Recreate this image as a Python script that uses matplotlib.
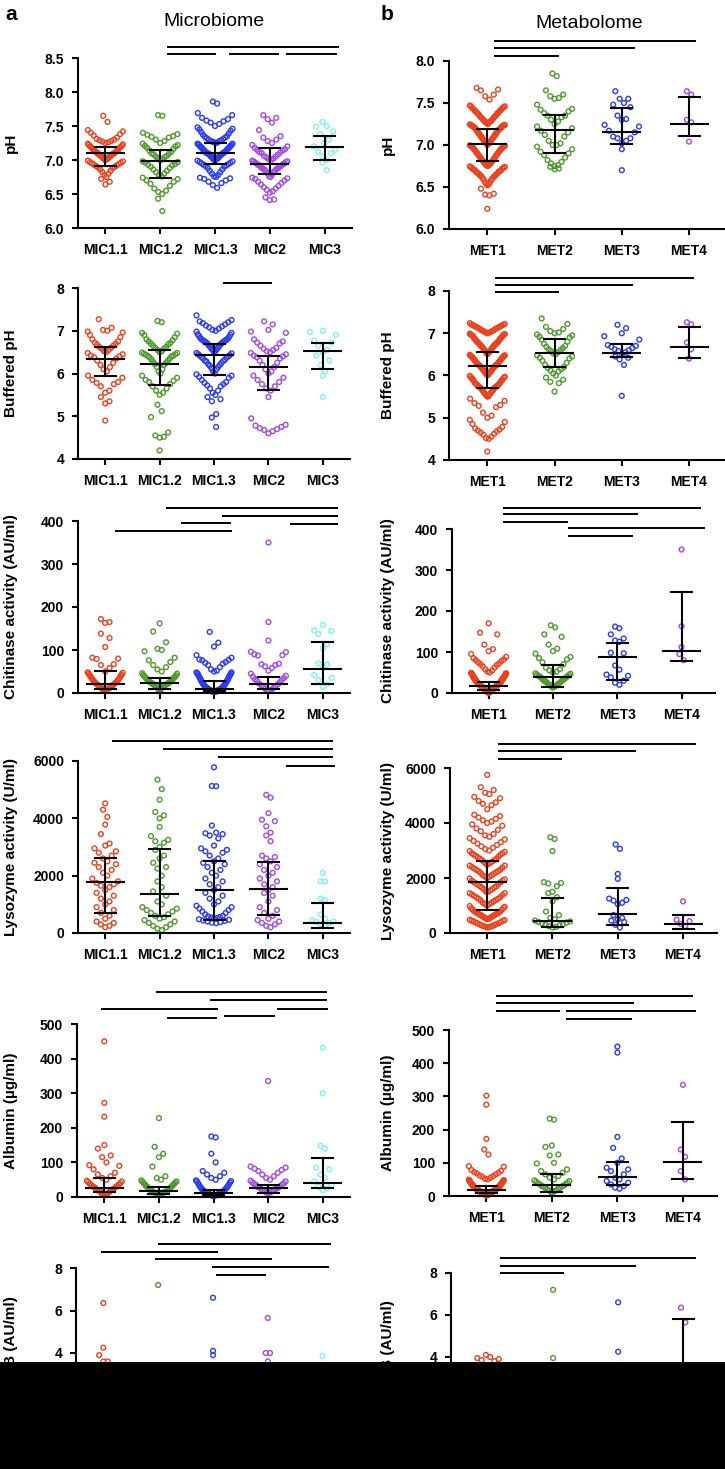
import numpy as np
import matplotlib.pyplot as plt
from matplotlib.patches import Rectangle
from matplotlib.ticker import FormatStrFormatter

plt.rcParams['font.family'] = ['Liberation Sans', 'DejaVu Sans']

W, H = 725, 1469

mic_groups = ['MIC1.1', 'MIC1.2', 'MIC1.3', 'MIC2', 'MIC3']
met_groups = ['MET1', 'MET2', 'MET3', 'MET4']
mic_colors = ['#e8431e', '#4f9a2c', '#2b3cf0', '#a449e6', '#84f0f0']
met_colors = ['#e8431e', '#4f9a2c', '#2b3cf0', '#a449e6']

# ---------------- pH ----------------
ph_mic = [
    [7.65, 7.56, 7.44, 7.42, 7.40, 7.38, 7.36, 7.33, 7.31, 7.30, 7.29, 7.28, 7.27, 7.26, 7.25, 7.24, 7.22, 7.21,
     7.20, 7.19, 7.18, 7.17, 7.16, 7.15, 7.14, 7.13, 7.12, 7.11, 7.10, 7.10, 7.09, 7.08, 7.07, 7.06, 7.05, 7.04,
     7.03, 7.02, 7.01, 7.00, 6.99, 6.97, 6.96, 6.94, 6.92, 6.91, 6.90, 6.88, 6.86, 6.84, 6.82, 6.80, 6.78, 6.75,
     6.72, 6.68, 6.64, 7.23, 7.19, 7.14, 7.11, 7.08, 7.06, 7.03, 7.01, 6.98, 6.95, 6.93, 6.89],
    [7.66, 7.65, 7.40, 7.38, 7.37, 7.35, 7.34, 7.33, 7.30, 7.28, 7.25, 7.24, 7.22, 7.21, 7.20, 7.18, 7.16, 7.14,
     7.12, 7.10, 7.08, 7.06, 7.04, 7.02, 7.00, 6.98, 6.96, 6.94, 6.92, 6.90, 6.88, 6.86, 6.84, 6.82, 6.80, 6.78,
     6.76, 6.74, 6.72, 6.70, 6.68, 6.65, 6.62, 6.58, 6.55, 6.53, 6.50, 6.43, 6.25, 7.09, 7.05, 7.01, 6.97, 6.93],
    [7.86, 7.83, 7.69, 7.66, 7.62, 7.60, 7.58, 7.57, 7.55, 7.53, 7.50, 7.48, 7.46, 7.45, 7.43, 7.41, 7.39, 7.37,
     7.35, 7.33, 7.31, 7.30, 7.29, 7.28, 7.27, 7.26, 7.25, 7.24, 7.23, 7.22, 7.21, 7.20, 7.19, 7.18, 7.17, 7.16,
     7.15, 7.14, 7.13, 7.12, 7.11, 7.11, 7.10, 7.10, 7.09, 7.09, 7.08, 7.07, 7.06, 7.05, 7.04, 7.03, 7.02, 7.01,
     7.00, 6.99, 6.98, 6.97, 6.96, 6.95, 6.94, 6.93, 6.92, 6.91, 6.90, 6.88, 6.86, 6.84, 6.82, 6.80, 6.78, 6.76,
     6.75, 6.74, 6.73, 6.72, 6.70, 6.68, 6.66, 6.63, 6.59,
     7.24, 7.22, 7.20, 7.18, 7.16, 7.14, 7.12, 7.10, 7.08, 7.06, 7.04, 7.02, 7.01, 7.00, 7.34, 7.32, 7.28, 7.26],
    [7.66, 7.62, 7.60, 7.55, 7.44, 7.35, 7.33, 7.30, 7.28, 7.25, 7.22, 7.20, 7.18, 7.16, 7.14, 7.12, 7.10, 7.08,
     7.06, 7.04, 7.02, 7.00, 6.99, 6.98, 6.97, 6.96, 6.95, 6.94, 6.93, 6.92, 6.91, 6.90, 6.89, 6.88, 6.87, 6.86,
     6.85, 6.84, 6.83, 6.82, 6.80, 6.78, 6.76, 6.75, 6.74, 6.73, 6.72, 6.70, 6.68, 6.66, 6.64, 6.62, 6.60, 6.58,
     6.56, 6.54, 6.52, 6.45, 6.42, 6.41, 7.15, 7.11, 7.05, 7.01, 6.98, 6.95, 6.92, 6.88],
    [7.56, 7.50, 7.49, 7.42, 7.38, 7.30, 7.25, 7.20, 7.15, 7.12, 7.10, 7.05, 7.00, 6.96, 6.85],
]
ph_mic_med = [7.10, 6.98, 7.10, 6.94, 7.19]
ph_mic_lo = [6.91, 6.74, 6.94, 6.79, 7.00]
ph_mic_hi = [7.19, 7.14, 7.25, 7.17, 7.35]

ph_met = [
    [7.68, 7.66, 7.65, 7.60, 7.58, 7.54,
     7.47, 7.46, 7.45, 7.44, 7.43, 7.42, 7.41, 7.40, 7.39, 7.38, 7.37, 7.36, 7.35, 7.34, 7.33, 7.32, 7.31, 7.30,
     7.29, 7.28, 7.27, 7.26, 7.25,
     7.24, 7.24, 7.23, 7.23, 7.22, 7.22, 7.21, 7.20, 7.20, 7.19, 7.18, 7.17, 7.16, 7.15, 7.14, 7.13, 7.12, 7.11,
     7.10, 7.09, 7.08, 7.07, 7.06, 7.05, 7.04, 7.03, 7.02, 7.01, 7.00,
     6.99, 6.99, 6.98, 6.97, 6.96, 6.95, 6.94, 6.93, 6.92, 6.91, 6.90, 6.89, 6.88, 6.87, 6.86, 6.85, 6.84, 6.83,
     6.82, 6.81, 6.80, 6.79, 6.78, 6.77, 6.76, 6.75,
     6.74, 6.73, 6.72, 6.71, 6.70, 6.69, 6.68, 6.67, 6.66, 6.65, 6.64, 6.63, 6.62, 6.61, 6.60, 6.58, 6.56, 6.54,
     6.52, 6.48, 6.42, 6.41, 6.40, 6.24,
     7.46, 7.44, 7.41, 7.38, 7.33, 7.29, 7.27, 7.245, 7.235, 7.225, 7.215, 7.19, 7.17, 7.14, 7.11, 7.08, 7.05,
     7.03, 7.02, 6.995, 6.985, 6.975, 6.96, 6.94, 6.91, 6.88, 6.84, 6.81, 6.78, 6.765, 6.755, 6.745, 6.735,
     6.72, 6.70, 6.68, 6.66, 6.63, 6.59, 6.55, 6.53],
    [7.85, 7.82, 7.65, 7.60, 7.58, 7.56, 7.55, 7.48, 7.43, 7.42, 7.40, 7.38, 7.35, 7.35, 7.33, 7.30, 7.28, 7.25,
     7.22, 7.20, 7.17, 7.15, 7.12, 7.10, 7.05, 7.02, 7.00, 7.00, 6.98, 6.95, 6.92, 6.90, 6.88, 6.85, 6.82, 6.80,
     6.78, 6.76, 6.75, 6.74, 6.72, 6.71],
    [7.64, 7.55, 7.55, 7.50, 7.48, 7.45, 7.35, 7.31, 7.30, 7.24, 7.22, 7.17, 7.15, 7.10, 7.08, 7.08, 7.05, 7.02,
     6.95, 6.70],
    [7.64, 7.60, 7.30, 7.27, 7.04],
]
ph_met_med = [7.01, 7.18, 7.15, 7.25]
ph_met_lo = [6.81, 6.91, 7.01, 7.11]
ph_met_hi = [7.19, 7.36, 7.44, 7.57]

# ---------------- Buffered pH ----------------
buf_mic = [
    [7.27, 7.07, 7.02, 7.00, 6.98, 6.96, 6.90, 6.85, 6.80, 6.75, 6.72, 6.70, 6.68, 6.65, 6.62, 6.60, 6.58, 6.55,
     6.52, 6.50, 6.48, 6.45, 6.42, 6.40, 6.38, 6.35, 6.30, 6.25, 6.20, 6.15, 6.10, 6.05, 5.95, 5.90, 5.85, 5.80,
     5.78, 5.75, 5.70, 5.60, 5.55, 5.45, 5.35, 5.30, 4.90],
    [7.23, 7.20, 6.95, 6.93, 6.90, 6.85, 6.80, 6.78, 6.75, 6.72, 6.70, 6.68, 6.65, 6.62, 6.60, 6.58, 6.55, 6.52,
     6.50, 6.48, 6.45, 6.42, 6.40, 6.35, 6.30, 6.25, 6.20, 6.15, 6.10, 6.05, 6.00, 5.95, 5.90, 5.85, 5.83, 5.80,
     5.75, 5.70, 5.65, 5.60, 5.55, 5.50, 5.27, 5.12, 4.98, 4.62, 4.55, 4.52, 4.50, 4.20,
     6.49, 6.46, 6.44, 6.41, 6.38, 6.33, 6.27, 6.22],
    [7.36, 7.25, 7.22, 7.20, 7.18, 7.15, 7.12, 7.10, 7.08, 7.05, 7.02, 7.00, 6.98, 6.95, 6.92, 6.90, 6.88, 6.85,
     6.82, 6.80, 6.78, 6.77, 6.76, 6.75, 6.74, 6.72, 6.70, 6.68, 6.65, 6.62, 6.60, 6.58, 6.55, 6.52, 6.50, 6.48,
     6.45, 6.42, 6.40, 6.38, 6.35, 6.32, 6.30, 6.28, 6.25, 6.22, 6.20, 6.18, 6.15, 6.12, 6.10, 6.05, 6.00, 5.98,
     5.95, 5.92, 5.90, 5.85, 5.80, 5.78, 5.75, 5.72, 5.70, 5.65, 5.60, 5.55, 5.50, 5.45, 5.40, 5.35, 5.05, 4.97,
     4.75, 6.83, 6.79, 6.73, 6.69, 6.63, 6.56, 6.47, 6.43, 6.37, 6.29],
    [7.22, 7.15, 7.02, 6.98, 6.95, 6.80, 6.75, 6.72, 6.70, 6.65, 6.60, 6.58, 6.55, 6.52, 6.50, 6.48, 6.45, 6.42,
     6.40, 6.38, 6.35, 6.30, 6.25, 6.20, 6.15, 6.10, 6.05, 6.00, 5.95, 5.90, 5.85, 5.80, 5.75, 5.70, 5.65, 5.60,
     5.45, 4.95, 4.80, 4.78, 4.75, 4.72, 4.70, 4.68, 4.65, 4.60],
    [7.00, 6.97, 6.90, 6.77, 6.72, 6.65, 6.55, 6.50, 6.42, 6.30, 6.20, 6.05, 5.95, 5.45],
]
buf_mic_med = [6.34, 6.22, 6.43, 6.15, 6.52]
buf_mic_lo = [5.94, 5.73, 5.96, 5.61, 6.11]
buf_mic_hi = [6.62, 6.55, 6.69, 6.41, 6.71]

buf_met = [
    [7.24, 7.22, 7.20, 7.18, 7.16, 7.15, 7.13, 7.12, 7.10, 7.08, 7.06, 7.05, 7.03, 7.02, 7.01, 7.00,
     6.98, 6.97, 6.96, 6.95, 6.94, 6.92, 6.90, 6.88, 6.86, 6.84, 6.82, 6.80, 6.78, 6.77, 6.76, 6.75, 6.74, 6.73,
     6.72, 6.70, 6.68, 6.66, 6.64, 6.62, 6.60, 6.58, 6.56, 6.54, 6.52, 6.51,
     6.49, 6.48, 6.46, 6.45, 6.44, 6.42, 6.40, 6.38, 6.36, 6.35, 6.34, 6.32, 6.30, 6.28, 6.26, 6.25, 6.24, 6.23,
     6.22, 6.21, 6.20, 6.18, 6.16, 6.14, 6.12, 6.10, 6.08, 6.06, 6.04, 6.02, 6.01,
     5.99, 5.97, 5.95, 5.93, 5.90, 5.88, 5.85, 5.82, 5.80, 5.78, 5.76, 5.75, 5.74, 5.73, 5.72, 5.70, 5.68, 5.65,
     5.62, 5.60, 5.58, 5.55, 5.52, 5.50,
     5.45, 5.40, 5.35, 5.30, 5.28, 5.25, 5.12, 5.05, 5.00, 4.95, 4.90, 4.85, 4.78, 4.75, 4.72, 4.70, 4.68, 4.65,
     4.62, 4.60, 4.55, 4.52, 4.50, 4.20,
     7.21, 7.19, 7.17, 7.14, 7.11, 7.07, 7.04, 6.99, 6.97, 6.93, 6.89, 6.85, 6.81, 6.79, 6.71, 6.67, 6.63, 6.59,
     6.55, 6.47, 6.43, 6.39, 6.33, 6.29, 6.27, 6.19, 6.15, 6.11, 6.07, 6.03, 5.96, 5.91, 5.86, 5.81, 5.77, 5.71,
     5.66, 5.61, 5.56, 5.51],
    [7.35, 7.22, 7.15, 7.10, 7.05, 7.02, 7.00, 6.97, 6.95, 6.92, 6.90, 6.85, 6.80, 6.75, 6.70, 6.68, 6.65, 6.62,
     6.60, 6.58, 6.55, 6.52, 6.50, 6.48, 6.45, 6.42, 6.40, 6.35, 6.30, 6.25, 6.20, 6.18, 6.15, 6.12, 6.10, 6.05,
     6.00, 5.95, 5.90, 5.85, 5.82, 5.62],
    [7.20, 7.12, 7.00, 6.93, 6.85, 6.72, 6.70, 6.68, 6.65, 6.62, 6.60, 6.58, 6.55, 6.50, 6.45, 6.42, 6.38, 6.25,
     5.52],
    [7.26, 7.21, 6.78, 6.62, 6.40],
]
buf_met_med = [6.23, 6.53, 6.53, 6.68]
buf_met_lo = [5.70, 6.20, 6.44, 6.41]
buf_met_hi = [6.55, 6.86, 6.75, 7.15]

# ---------------- Chitinase ----------------
chi_mic = [
    [172, 165, 163, 138, 128, 107, 82, 80, 79, 67, 65, 58, 50, 48, 45, 42, 40, 38, 35, 32, 30, 28, 26, 25, 23, 22,
     21, 20, 18, 17, 15, 14, 13, 12, 11, 10, 9, 8, 7, 5, 47, 43, 36, 33, 27, 24, 19, 16, 12, 9, 6],
    [162, 143, 118, 103, 100, 97, 82, 76, 72, 65, 60, 55, 50, 45, 42, 40, 38, 36, 34, 32, 30, 28, 27, 26, 25, 24,
     23, 22, 21, 20, 19, 18, 16, 15, 14, 12, 10, 8, 6, 46, 41, 37, 33, 29, 24, 21, 17, 13, 9],
    [142, 117, 108, 88, 82, 78, 77, 76, 72, 70, 68, 65, 60, 55, 52, 50, 48, 45, 42, 40, 38, 35, 32, 30, 28, 26,
     24, 22, 20, 18, 17, 16, 15, 14, 13, 12, 11, 10, 10, 9, 9, 8, 8, 7, 7, 6, 6, 5, 5, 4, 4, 3, 3, 2,
     48, 46, 44, 41, 37, 33, 29, 25, 21, 19, 14, 11, 6, 4, 3, 2],
    [350, 165, 122, 96, 95, 90, 88, 87, 68, 67, 65, 62, 58, 52, 45, 40, 38, 35, 32, 30, 28, 25, 22, 20, 18, 16,
     14, 12, 10, 8, 6, 4],
    [158, 146, 144, 137, 113, 103, 69, 66, 62, 42, 35, 30, 20, 15],
]
chi_mic_med = [21, 23, 10, 21, 55]
chi_mic_lo = [10, 10, 5, 9, 21]
chi_mic_hi = [51, 35, 27, 37, 119]

chi_met = [
    [170, 147, 143, 118, 107, 102, 95, 88, 85, 82, 80, 78, 75, 72, 70, 68, 65, 62, 58, 55, 52, 50, 48, 46, 45, 44,
     42, 40, 39, 38, 37, 36, 35, 34, 33, 32, 31, 30, 29, 28, 27, 26, 25, 25, 24, 24, 23, 23, 22, 22, 21, 21, 20,
     20, 19, 19, 18, 18, 17, 17, 16, 16, 15, 15, 14, 14, 13, 13, 12, 12, 11, 11, 10, 10, 9, 9, 8, 8, 7, 7, 6, 6,
     5, 5, 4, 4, 3, 3, 2, 2, 1, 1,
     49, 47, 45, 43, 41, 39, 37, 35, 33, 31, 29, 27, 25, 23, 21, 19, 17, 15, 13, 11, 9, 7, 5, 3, 2,
     48, 44, 40, 36, 32, 28, 24, 20, 16, 12, 8, 4, 2, 1],
    [165, 160, 143, 137, 118, 108, 102, 96, 88, 85, 82, 75, 70, 62, 58, 55, 52, 50, 48, 45, 42, 40, 38, 35, 32,
     30, 28, 25, 22, 20, 18, 15, 13, 47, 44, 41, 37, 33, 29, 26, 23, 19, 16],
    [162, 158, 143, 133, 128, 125, 98, 97, 67, 57, 45, 42, 38, 30, 25, 20],
    [350, 163, 112, 95, 80],
]
chi_met_med = [17, 39, 87, 102]
chi_met_lo = [7, 14, 32, 78]
chi_met_hi = [27, 68, 122, 246]

# ---------------- Lysozyme ----------------
lys_mic = [
    [4520, 4300, 4050, 3780, 3450, 3120, 3050, 2950, 2850, 2800, 2700, 2600, 2500, 2450, 2400, 2300, 2200, 2100,
     2000, 1900, 1800, 1750, 1700, 1650, 1600, 1500, 1400, 1300, 1200, 1100, 1000, 900, 800, 700, 600, 500, 400,
     350, 300, 250, 200],
    [5350, 5020, 4650, 4220, 4100, 4000, 3700, 3380, 3250, 3200, 3150, 3000, 2900, 2700, 2600, 2450, 2300, 2250,
     2000, 1800, 1600, 1450, 1300, 1100, 1000, 900, 850, 800, 750, 700, 650, 600, 550, 500, 450, 400, 350, 300,
     250, 200, 150, 100],
    [5780, 5130, 5120, 3750, 3500, 3480, 3450, 3400, 3300, 3050, 2950, 2900, 2850, 2800, 2700, 2600, 2500, 2450,
     2400, 2300, 2200, 2100, 2000, 1900, 1800, 1700, 1600, 1500, 1400, 1300, 1200, 1100, 1000, 950, 900, 850,
     800, 750, 700, 650, 600, 580, 560, 540, 520, 500, 480, 460, 440, 420, 400, 380, 360, 340],
    [4820, 4720, 4180, 3950, 3900, 3720, 3500, 3400, 3200, 2700, 2650, 2600, 2500, 2400, 2300, 2200, 2100, 2000,
     1900, 1800, 1700, 1600, 1500, 1400, 1300, 1100, 900, 800, 700, 600, 500, 450, 400, 350, 300, 250, 200],
    [2100, 1800, 1800, 1200, 1150, 650, 500, 450, 400, 380, 350, 300, 250],
]
lys_mic_med = [1770, 1360, 1500, 1530, 350]
lys_mic_lo = [700, 590, 450, 630, 180]
lys_mic_hi = [2617, 2930, 2520, 2470, 1060]

lys_met = [
    [5750, 5300, 5200, 5100, 5050, 4950, 4900, 4800, 4750, 4700, 4650, 4500, 4300, 4250, 4200, 4150, 4100, 4050,
     4000, 3950, 3900, 3800, 3750, 3700, 3600, 3550, 3500, 3450, 3400, 3350, 3300, 3250, 3200, 3150, 3100, 3050,
     3000, 2950, 2900, 2850, 2800, 2750, 2700, 2650, 2600, 2550, 2500, 2450, 2400, 2350, 2300, 2250, 2200, 2150,
     2100, 2050, 2000, 1950, 1900, 1850, 1800, 1750, 1700, 1650, 1600, 1550, 1500, 1450, 1400, 1350, 1300, 1250,
     1200, 1150, 1100, 1050, 1000, 950, 900, 850, 800, 760, 720, 680, 640, 600, 560, 520, 480, 440, 400, 360,
     320, 280, 240, 200,
     2900, 2700, 2500, 2300, 2100, 1900, 1700, 1500, 1300, 1100, 900, 700, 650, 550, 450, 350, 300, 250,
     2850, 2650, 2450, 2250, 2050, 1850, 1650, 1450, 1250, 1050, 850, 750, 620, 580, 500, 420, 380, 260, 220,
     2980, 2780, 2580, 2380, 2180, 1980, 1780, 1580, 1380, 1180, 980, 780, 700, 660, 540, 470, 330, 230],
    [3480, 3420, 2980, 1850, 1820, 1800, 1700, 1500, 1450, 1300, 1150, 780, 650, 550, 500, 450, 420, 400, 380,
     350, 320, 300, 280, 250, 220, 200],
    [3220, 3060, 2150, 1970, 1250, 1200, 1180, 1100, 1050, 650, 550, 500, 450, 400, 300, 200],
    [1150, 480, 430, 330, 250],
]
lys_met_med = [1860, 440, 690, 330]
lys_met_lo = [840, 220, 290, 150]
lys_met_hi = [2620, 1290, 1640, 650]

# ---------------- Albumin ----------------
alb_mic = [
    [450, 272, 232, 150, 140, 120, 115, 100, 92, 90, 80, 70, 65, 60, 55, 50, 45, 40, 38, 35, 32, 30, 28, 25, 22,
     20, 18, 15, 12, 10, 8, 5, 47, 43, 36, 29, 24, 19, 14, 9],
    [228, 145, 125, 115, 88, 60, 55, 50, 45, 42, 40, 38, 35, 32, 30, 28, 25, 22, 20, 18, 17, 16, 15, 14, 13, 12,
     11, 10, 8, 6, 5, 48, 44, 37, 31, 26, 21, 16, 12, 9],
    [175, 172, 125, 100, 75, 70, 65, 60, 55, 50, 45, 40, 35, 30, 28, 25, 22, 20, 18, 16, 15, 14, 13, 12, 11, 10,
     9, 8, 7, 6, 5, 4, 3, 48, 46, 42, 37, 32, 27, 21, 17, 13, 9, 6, 4, 2],
    [335, 88, 85, 82, 78, 75, 70, 65, 60, 55, 50, 45, 40, 38, 35, 32, 30, 28, 25, 22, 20, 18, 15, 12, 10,
     47, 42, 36, 27, 23, 17, 13],
    [432, 300, 148, 140, 85, 80, 65, 55, 45, 35, 30, 25, 20],
]
alb_mic_med = [25, 17, 12, 25, 40]
alb_mic_lo = [15, 10, 5, 12, 25]
alb_mic_hi = [55, 30, 20, 35, 113]

alb_met = [
    [302, 275, 172, 140, 125, 90, 88, 78, 76, 72, 70, 68, 65, 62, 60, 58, 55, 52, 50, 48, 46, 45, 44, 42, 40, 39,
     38, 37, 36, 35, 34, 33, 32, 31, 30, 29, 28, 27, 26, 25, 25, 24, 24, 23, 23, 22, 22, 21, 21, 20, 20, 19, 19,
     18, 18, 17, 17, 16, 16, 15, 15, 14, 14, 13, 13, 12, 12, 11, 11, 10, 10, 9, 9, 8, 8, 7, 7, 6, 6, 5, 5, 4, 4,
     3, 3, 2, 49, 47, 43, 41, 37, 33, 29, 26, 22, 18, 15, 12, 9, 6, 3, 2, 1],
    [233, 230, 152, 148, 125, 122, 100, 98, 80, 75, 70, 65, 60, 55, 50, 45, 40, 38, 35, 32, 30, 28, 25, 22, 20,
     18, 15, 12, 10, 47, 43, 36, 29, 24, 17],
    [450, 432, 178, 145, 113, 100, 85, 80, 75, 65, 55, 50, 45, 40, 35, 30, 25, 22],
    [335, 140, 118, 75, 50],
]
alb_met_med = [17, 32, 56, 103]
alb_met_lo = [8, 12, 32, 50]
alb_met_hi = [30, 65, 103, 222]

# ---------------- MUC5B ----------------
muc_mic = [
    [6.35, 4.25, 3.90, 3.60, 3.60, 3.0, 2.6, 2.2, 2.0, 1.8, 1.6, 1.4, 1.2, 1.0, 0.9, 0.8, 0.7, 0.6, 0.5, 0.4],
    [7.20, 3.0, 2.5, 2.0, 1.6, 1.3, 1.1, 0.9, 0.8, 0.7, 0.6, 0.5, 0.4],
    [6.60, 4.10, 3.90, 3.0, 2.5, 2.0, 1.6, 1.3, 1.1, 0.9, 0.8, 0.7, 0.6, 0.5, 0.4, 0.3],
    [5.65, 4.00, 4.00, 3.60, 3.0, 2.5, 2.0, 1.5, 1.2, 1.0, 0.8, 0.6, 0.5],
    [3.85, 2.8, 2.2, 1.6, 1.2, 0.9],
]
muc_mic_med = [1.2, 0.9, 0.8, 1.0, 1.5]
muc_mic_lo = [0.6, 0.5, 0.4, 0.5, 0.8]
muc_mic_hi = [2.5, 2.0, 1.8, 2.2, 2.8]

muc_met = [
    [4.10, 4.00, 3.95, 3.90, 3.85, 3.80, 3.5, 3.2, 3.0, 2.8, 2.5, 2.2, 2.0, 1.8, 1.5, 1.2, 1.0, 0.8, 0.5],
    [7.20, 3.95, 3.0, 2.5, 2.0, 1.5, 1.2, 1.0, 0.8],
    [6.60, 4.25, 3.0, 2.2, 1.6, 1.2, 0.9],
    [6.35, 5.65, 2.5, 1.5, 1.0],
]
muc_met_med = [1.0, 1.2, 1.6, 2.5]
muc_met_lo = [0.5, 0.6, 0.8, 1.2]
muc_met_hi = [2.2, 2.5, 3.0, 5.8]

# comparison bars: (from, to, level) in category / data units
bars_ph_mic = [(1.12, 4.26, 8.66), (1.12, 2.02, 8.56), (2.26, 3.16, 8.56), (3.30, 4.22, 8.56)]
bars_buf_mic = [(2.17, 3.06, 8.12)]
bars_chi_mic = [(1.12, 4.28, 430), (2.15, 4.28, 412), (1.39, 2.31, 395), (3.39, 4.28, 393), (0.18, 2.33, 377)]
bars_lys_mic = [(0.13, 4.18, 6700), (1.06, 4.18, 6420), (2.07, 4.18, 6140), (3.32, 4.22, 5825)]
bars_alb_mic = [(0.94, 4.07, 592), (1.94, 4.07, 569), (-0.06, 2.09, 543), (3.17, 4.09, 543),
                (2.20, 3.12, 523), (1.14, 2.07, 517)]
bars_muc_mic = [(0.99, 4.15, 9.13), (-0.04, 2.09, 8.75), (0.95, 3.08, 8.42), (1.98, 4.11, 8.05),
                (2.06, 2.97, 7.67)]
bars_ph_met = [(0.10, 3.10, 8.24), (0.10, 2.19, 8.15), (0.10, 1.06, 8.06)]
bars_buf_met = [(0.12, 3.07, 8.31), (0.12, 2.17, 8.14), (0.12, 1.06, 7.98)]
bars_chi_met = [(0.23, 3.31, 451), (0.23, 2.33, 437), (0.23, 1.23, 417), (1.24, 3.37, 402), (1.24, 2.24, 383)]
bars_lys_met = [(0.17, 3.20, 6873), (0.17, 2.28, 6618), (0.17, 1.15, 6327)]
bars_alb_met = [(0.14, 3.15, 602), (0.14, 2.25, 581), (0.14, 1.12, 557), (1.21, 3.20, 557), (1.21, 2.22, 533)]
bars_muc_met = [(0.18, 3.20, 8.71), (0.18, 2.28, 8.33), (0.18, 1.16, 8.0)]


def swarm_x(vals, center, bin_h, step, half):
    # prism-like column scatter: bin by value, lowest in the middle, fan outwards
    v = np.asarray(vals, float)
    x = np.full(len(v), float(center))
    keys = np.floor(v / bin_h + 1e-9).astype(int)
    for k in np.unique(keys):
        idx = np.flatnonzero(keys == k)
        idx = idx[np.argsort(v[idx], kind='stable')]
        n = len(idx)
        s = step if n < 2 else min(step, half / ((n - 1) / 2))
        if n % 2:
            offs = [0] + [m for j in range(1, (n + 1) // 2) for m in (j, -j)]
        else:
            offs = [m for j in range(n // 2) for m in (j + 0.5, -(j + 0.5))]
        x[idx] = center + np.array(offs[:n]) * s
    return x


fig = plt.figure(figsize=(W / 100, H / 100), dpi=100)

left = dict(groups=mic_groups, colors=mic_colors, xlim=(-0.5, 4.5), lab_x=11)
right = dict(groups=met_groups, colors=met_colors, xlim=(-0.57, 3.52), lab_x=388)

panels = [
    (left, (78, 352, 58, 228), ph_mic, ph_mic_med, ph_mic_lo, ph_mic_hi, (6.0, 8.5), np.arange(6.0, 8.51, 0.5),
     '%.1f', 'pH', bars_ph_mic, 0.25),
    (left, (78, 350, 288, 459), buf_mic, buf_mic_med, buf_mic_lo, buf_mic_hi, (4, 8), [4, 5, 6, 7, 8],
     '%d', 'Buffered pH', bars_buf_mic, 0.5),
    (left, (78, 350, 521, 693), chi_mic, chi_mic_med, chi_mic_lo, chi_mic_hi, (0, 400), [0, 100, 200, 300, 400],
     '%d', 'Chitinase activity (AU/ml)', bars_chi_mic, 50),
    (left, (78, 350, 761, 933), lys_mic, lys_mic_med, lys_mic_lo, lys_mic_hi, (0, 6000), [0, 2000, 4000, 6000],
     '%d', 'Lysozyme activity (U/ml)', bars_lys_mic, 500),
    (left, (77, 350, 1024, 1197), alb_mic, alb_mic_med, alb_mic_lo, alb_mic_hi, (0, 500),
     [0, 100, 200, 300, 400, 500], '%d', 'Albumin (µg/ml)', bars_alb_mic, 50),
    (left, (76, 350, 1268, 1438), muc_mic, muc_mic_med, muc_mic_lo, muc_mic_hi, (0, 8), [0, 2, 4, 6, 8],
     '%d', 'MUC5B (AU/ml)', bars_muc_mic, 0.8),
    (right, (449, 724, 61, 229), ph_met, ph_met_med, ph_met_lo, ph_met_hi, (6.0, 8.0), np.arange(6.0, 8.01, 0.5),
     '%.1f', 'pH', bars_ph_met, 0.25),
    (right, (449, 724, 291, 460), buf_met, buf_met_med, buf_met_lo, buf_met_hi, (4, 8), [4, 5, 6, 7, 8],
     '%d', 'Buffered pH', bars_buf_met, 0.5),
    (right, (452, 715, 529, 693), chi_met, chi_met_med, chi_met_lo, chi_met_hi, (0, 400), [0, 100, 200, 300, 400],
     '%d', 'Chitinase activity (AU/ml)', bars_chi_met, 50),
    (right, (450, 717, 768, 933), lys_met, lys_met_med, lys_met_lo, lys_met_hi, (0, 6000), [0, 2000, 4000, 6000],
     '%d', 'Lysozyme activity (U/ml)', bars_lys_met, 500),
    (right, (449, 717, 1030, 1196), alb_met, alb_met_med, alb_met_lo, alb_met_hi, (0, 500),
     [0, 100, 200, 300, 400, 500], '%d', 'Albumin (µg/ml)', bars_alb_met, 50),
    (right, (451, 717, 1273, 1441), muc_met, muc_met_med, muc_met_lo, muc_met_hi, (0, 8), [0, 2, 4, 6, 8],
     '%d', 'MUC5B (AU/ml)', bars_muc_met, 0.8),
]

for side, (x0, x1, yt, yb), data, med, lo, hi, ylim, yticks, fmt, ylabel, bars, binh in panels:
    ax = fig.add_axes([x0 / W, 1 - yb / H, (x1 - x0) / W, (yb - yt) / H])
    ax.set_xlim(*side['xlim'])
    ax.set_ylim(*ylim)
    px_per_cat = (x1 - x0) / (side['xlim'][1] - side['xlim'][0])
    step = 4.3 / px_per_cat
    half = 17.5 / px_per_cat
    mhalf = 18.5 / px_per_cat
    chalf = 10.5 / px_per_cat

    for i, (vals, col) in enumerate(zip(data, side['colors'])):
        xs = swarm_x(vals, i, binh, step, half)
        ax.scatter(xs, vals, s=12, facecolors='none', edgecolors=col, linewidths=1.0, zorder=2, clip_on=False)
        ax.plot([i - mhalf, i + mhalf], [med[i], med[i]], color='black', lw=1.5, zorder=3)
        ax.plot([i - chalf, i + chalf], [lo[i], lo[i]], color='black', lw=1.5, zorder=3)
        ax.plot([i - chalf, i + chalf], [hi[i], hi[i]], color='black', lw=1.5, zorder=3)
        ax.plot([i, i], [lo[i], hi[i]], color='black', lw=1.5, zorder=3)

    for a, b, lev in bars:
        ax.plot([a, b], [lev, lev], color='black', lw=1.4, clip_on=False, solid_capstyle='butt', zorder=3)

    ax.spines['top'].set_visible(False)
    ax.spines['right'].set_visible(False)
    for sp in ('left', 'bottom'):
        ax.spines[sp].set_linewidth(1.5)
    ax.set_xticks(range(len(side['groups'])))
    ax.set_xticklabels(side['groups'], fontsize=10, fontweight='bold')
    ax.set_yticks(yticks)
    ax.yaxis.set_major_formatter(FormatStrFormatter(fmt))
    for t in ax.get_yticklabels():
        t.set_fontweight('bold')
        t.set_fontsize(10)
    ax.tick_params(axis='both', direction='out', length=4, width=1.5, pad=6)
    ax.tick_params(axis='x', pad=7)
    ax.set_ylabel(ylabel, fontsize=11, fontweight='bold', va='center')
    ax.yaxis.set_label_coords((side['lab_x'] - x0) / (x1 - x0), 0.5)

fig.text(11 / W, 1 - 15 / H, 'a', fontsize=15, fontweight='bold', ha='center', va='center')
fig.text(387 / W, 1 - 14 / H, 'b', fontsize=15, fontweight='bold', ha='center', va='center')
fig.text(214 / W, 1 - 22 / H, 'Microbiome', fontsize=14, ha='center', va='center')
fig.text(589 / W, 1 - 23 / H, 'Metabolome', fontsize=14, ha='center', va='center')

# the bottom of the source image is blacked out
fig.add_artist(Rectangle((0, 0), 1, (H - 1362) / H, transform=fig.transFigure,
                         facecolor='black', edgecolor='none', zorder=100))

fig.savefig('out.png', dpi=100)
